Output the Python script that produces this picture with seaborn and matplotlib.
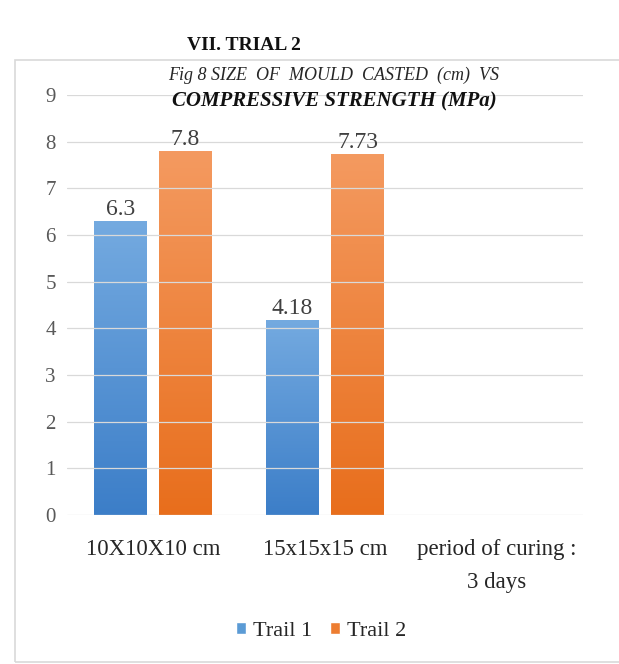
import numpy as np
import pandas as pd
import seaborn as sns
import matplotlib.pyplot as plt
from matplotlib.patches import Rectangle
from matplotlib.colors import LinearSegmentedColormap

# values
categories = ["10X10X10 cm", "15x15x15 cm", "period of curing :\n3 days"]
series = ["Trail 1", "Trail 2"]
trail1 = [6.3, 4.18]
trail2 = [7.8, 7.73]
yticks = list(range(0, 10))

df = pd.DataFrame({
    "size": categories[:2] * 2,
    "trail": [series[0]] * 2 + [series[1]] * 2,
    "strength": trail1 + trail2,
})

sns.set_theme(style="white")
plt.rcParams["font.family"] = ["Liberation Serif", "DejaVu Serif"]

blue = "#5b9bd5"
orange = "#ed7d31"
# top -> bottom gradient for each series
grad = {blue: ["#74aae0", "#3c7ec8"], orange: ["#f49a60", "#e86e1c"]}

fig = plt.figure(figsize=(6.19, 6.64), dpi=100)
ax = fig.add_axes([67 / 619, 149 / 664, 516 / 619, 420 / 664])

sns.barplot(data=df, x="size", y="strength", hue="trail", order=categories,
            hue_order=series, palette=[blue, orange], width=0.756, gap=0.185,
            saturation=1, errorbar=None, ax=ax)

# gradient fill clipped to each bar
g = np.linspace(0, 1, 256).reshape(-1, 1)
for cont, col in zip(ax.containers, [blue, orange]):
    cmap = LinearSegmentedColormap.from_list("g", grad[col][::-1])
    for bar in cont:
        x0, y0 = bar.get_x(), bar.get_y()
        w, h = bar.get_width(), bar.get_height()
        im = ax.imshow(g, cmap=cmap, aspect="auto", origin="lower",
                       extent=[x0, x0 + w, y0, y0 + h], zorder=2)
        im.set_clip_path(bar)
    ax.bar_label(cont, fmt="{:g}", padding=1, fontsize=17, color="#404040")

ax.set_xlim(-0.5, 2.5)
ax.set_ylim(0, 9)
ax.set_yticks(yticks)
ax.set_xlabel("")
ax.set_ylabel("")
ax.yaxis.grid(True, color="#d9d9d9", lw=0.9)
ax.set_axisbelow(False)
sns.despine(ax=ax, left=True, bottom=True)
ax.tick_params(axis="y", length=0, pad=8, labelsize=15, labelcolor="#595959")
ax.tick_params(axis="x", length=0, pad=17, labelsize=16.5, labelcolor="#262626")
plt.setp(ax.get_xticklabels(), linespacing=1.75)

sns.move_legend(ax, "center", bbox_to_anchor=(321 / 619, 1 - 631 / 664),
                bbox_transform=fig.transFigure, ncol=2, frameon=False,
                title=None, fontsize=16, handlelength=0.45, handleheight=0.45,
                handletextpad=0.3, columnspacing=0.8)

# titles
fig.text(244 / 619, 1 - 45 / 664, "VII. TRIAL 2", ha="center", va="center",
         fontsize=14, fontweight="bold", color="#111111")
fig.text(334 / 619, 1 - 75 / 664, "Fig 8 SIZE  OF  MOULD  CASTED  (cm)  VS",
         ha="center", va="center", fontsize=13, style="italic", color="#262626")
fig.text(334 / 619, 1 - 101 / 664, "COMPRESSIVE STRENGTH (MPa)",
         ha="center", va="center", fontsize=15, style="italic",
         fontweight="bold", color="#111111")

# chart area border
fig.patches.append(Rectangle((15 / 619, 1 - 662 / 664), 1.0, (662 - 60) / 664,
                             transform=fig.transFigure, fill=False,
                             ec="#d9d9d9", lw=1.2))

fig.savefig("out.png", dpi=100)
